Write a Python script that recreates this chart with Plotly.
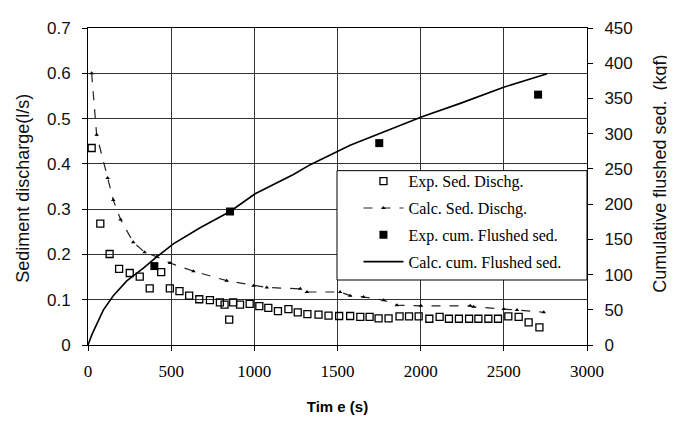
import plotly.graph_objects as go

# Experimental sediment discharge (l/s)
exp_sed_t = [22, 74, 130, 187, 251, 311, 371, 440, 492, 550, 608, 669, 733, 793, 821, 849, 873, 914, 972,
             1030, 1084, 1142, 1205, 1261, 1319, 1386, 1446, 1510, 1576, 1637, 1693, 1747, 1807, 1873, 1930,
             1988, 2052, 2114, 2170, 2230, 2291, 2347, 2407, 2465, 2527, 2589, 2649, 2714]
exp_sed_q = [0.435, 0.268, 0.201, 0.168, 0.159, 0.151, 0.125, 0.161, 0.125, 0.119, 0.109, 0.101, 0.099, 0.094,
             0.089, 0.056, 0.094, 0.089, 0.091, 0.086, 0.082, 0.075, 0.079, 0.072, 0.068, 0.067, 0.065, 0.064,
             0.064, 0.062, 0.062, 0.059, 0.059, 0.063, 0.063, 0.063, 0.058, 0.062, 0.058, 0.058, 0.058, 0.058,
             0.058, 0.058, 0.063, 0.062, 0.050, 0.039]

# Calculated sediment discharge (l/s)
calc_sed_t = [22, 52, 118, 152, 196, 272, 340, 413, 493, 634, 834, 995, 1075, 1276, 1316, 1516, 1576, 1657,
              1777, 1857, 2001, 2298, 2318, 2499, 2579, 2740]
calc_sed_q = [0.600, 0.464, 0.369, 0.320, 0.277, 0.227, 0.205, 0.195, 0.181, 0.163, 0.142, 0.131, 0.127, 0.124,
              0.117, 0.117, 0.109, 0.106, 0.099, 0.088, 0.0865, 0.0865, 0.0843, 0.0794, 0.0773, 0.0723]

# Experimental cumulative flushed sediment (kgf)
exp_cum_t = [399, 854, 1751, 2706]
exp_cum_w = [112, 189.5, 286.6, 355.4]

# Calculated cumulative flushed sediment (kgf)
calc_cum_t = [0, 24, 92, 152, 233, 333, 413, 513, 674, 854, 1005, 1115, 1235, 1336, 1456, 1576, 2008, 2238,
              2499, 2760]
calc_cum_w = [0, 15, 49.5, 70, 91, 109, 125, 143.5, 166.5, 189.5, 214.7, 228, 242, 256, 270, 283.5, 324, 343,
              366, 385]

x_ticks = [0, 500, 1000, 1500, 2000, 2500, 3000]

SANS = "Liberation Sans, Arial, sans-serif"
SERIF = "Liberation Serif, Times New Roman, serif"

fig = go.Figure()
fig.add_trace(go.Scatter(x=exp_sed_t, y=exp_sed_q, mode="markers", name="Exp. Sed. Dischg.",
                         legendgroup="a",
                         marker=dict(symbol="square-open", size=7, color="black", line=dict(width=1.3))))
fig.add_trace(go.Scatter(x=calc_sed_t, y=calc_sed_q, mode="lines+markers", name="Calc. Sed. Dischg.",
                         legendgroup="b",
                         line=dict(color="#222", width=1.2, dash="dash"),
                         marker=dict(symbol="triangle-up", size=4, color="black")))
fig.add_trace(go.Scatter(x=exp_cum_t, y=exp_cum_w, mode="markers", name="Exp. cum. Flushed sed.",
                         legendgroup="c", yaxis="y2",
                         marker=dict(symbol="square", size=8, color="black")))
fig.add_trace(go.Scatter(x=calc_cum_t, y=calc_cum_w, mode="lines", name="Calc. cum. Flushed sed.",
                         legendgroup="d", yaxis="y2",
                         line=dict(color="black", width=1.6)))

fig.update_layout(
    width=667, height=416,
    margin=dict(l=80, r=88, t=11, b=78),
    paper_bgcolor="white", plot_bgcolor="white",
    showlegend=True,
    legend=dict(x=0.542, y=0.57, xanchor="left", yanchor="top", bgcolor="rgba(0,0,0,0)",
                borderwidth=0, font=dict(family=SERIF, size=16, color="black"),
                tracegroupgap=3, itemwidth=40),
    xaxis=dict(range=[0, 3000], tickvals=x_ticks, showgrid=True, gridcolor="#333", gridwidth=1,
               showline=True, linecolor="black", linewidth=1, mirror=True,
               ticks="outside", ticklen=5, tickcolor="black", ticklabelstandoff=6,
               tickfont=dict(family=SERIF, size=17, color="black"), zeroline=False,
               title=dict(text="<b>Tim e (s)</b>", font=dict(family=SANS, size=15, color="black"),
                          standoff=21)),
    yaxis=dict(range=[0, 0.7], dtick=0.1, showgrid=True, gridcolor="#333", gridwidth=1,
               showline=True, linecolor="black", linewidth=1,
               ticks="outside", ticklen=5, tickcolor="black", ticklabelstandoff=8,
               tickfont=dict(family=SANS, size=17, color="#111"), zeroline=False),
    yaxis2=dict(range=[0, 450], dtick=50, overlaying="y", side="right", showgrid=False,
                showline=True, linecolor="black", linewidth=1,
                ticks="outside", ticklen=5, tickcolor="black", ticklabelstandoff=8,
                tickfont=dict(family=SANS, size=17, color="#111"), zeroline=False),
    shapes=[dict(type="rect", xref="paper", yref="paper", x0=0.499, x1=1.0, y0=0.205, y1=0.55,
                 fillcolor="white", line=dict(color="black", width=1), layer="above")],
    annotations=[
        dict(text="Sediment discharge(l/s)", xref="paper", yref="paper", x=-0.131, y=0.495,
             textangle=-90, showarrow=False, xanchor="center", yanchor="middle",
             font=dict(family=SANS, size=18, color="#111")),
        dict(text="Cumulative flushed sed.  (kgf)", xref="paper", yref="paper", x=1.146, y=0.54,
             textangle=-90, showarrow=False, xanchor="center", yanchor="middle",
             font=dict(family=SANS, size=18, color="#111")),
    ],
)

fig.write_html("out.html")
